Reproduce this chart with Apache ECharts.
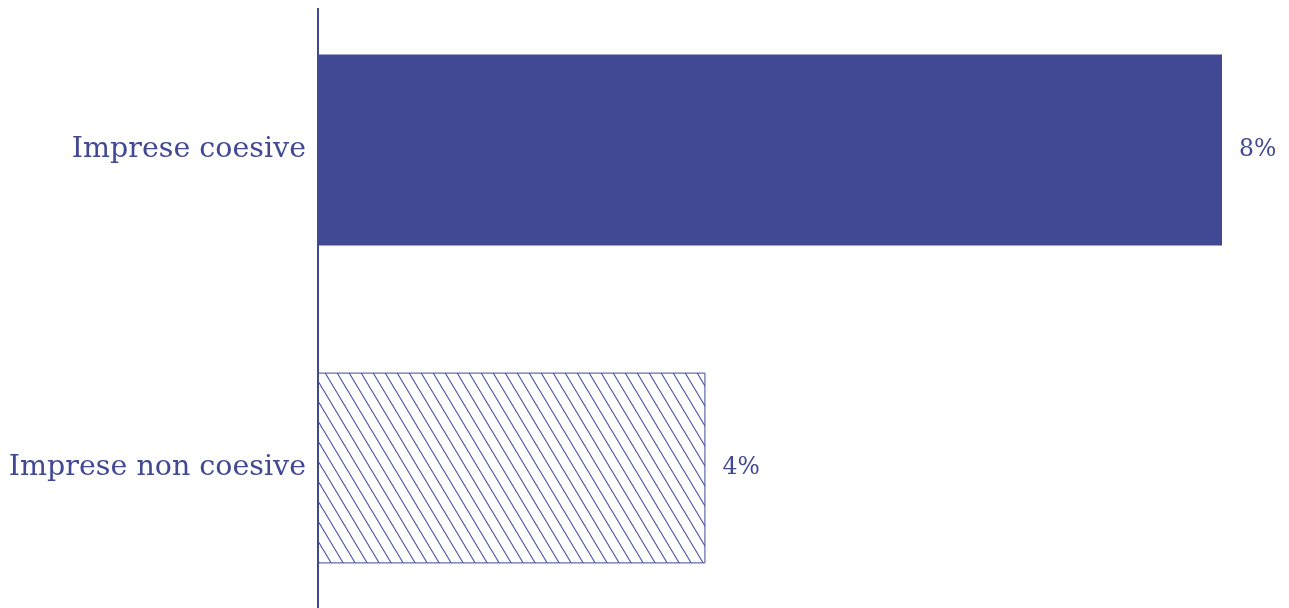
<!DOCTYPE html>
<html>
<head>
<meta charset="utf-8">
<style>
  html, body { margin: 0; padding: 0; background: #fff; overflow: hidden; }
  body { width: 1289px; height: 608px; }
  #chart { width: 1289px; height: 636px; margin-top: -9px; }
</style>
<script src="https://cdn.jsdelivr.net/npm/echarts@6/dist/echarts.min.js"></script>
</head>
<body>
<div id="chart"></div>
<script>
// Share of firms, by cohesion
const categories = ['Imprese coesive', 'Imprese non coesive'];
const values = [8.4, 3.6];

const INK = '#414994';
const FONT = 'DejaVu Serif';

// Diagonal hatch tile for the non-cohesive bar
function hatchTile() {
  const w = 12, h = 20;
  const c = document.createElement('canvas');
  c.width = w; c.height = h;
  const g = c.getContext('2d');
  g.strokeStyle = '#4850a6';
  g.lineWidth = 1.1;
  g.beginPath();
  g.moveTo(-w, -h); g.lineTo(2 * w, 2 * h);
  g.moveTo(0, -h); g.lineTo(2 * w, h);
  g.moveTo(-w, 0); g.lineTo(w, 2 * h);
  g.stroke();
  return c;
}

const chart = echarts.init(document.getElementById('chart'));
chart.setOption({
  animation: false,
  backgroundColor: '#ffffff',
  grid: { left: 318, right: 67, top: 0, bottom: 0, containLabel: false },
  xAxis: {
    type: 'value', min: 0, max: 8.4,
    show: false
  },
  yAxis: {
    type: 'category', data: categories, inverse: true,
    axisLine: { show: false },
    axisTick: { show: false },
    axisLabel: { color: INK, fontFamily: FONT, fontSize: 28.5, margin: 12 }
  },
  graphic: [{
    type: 'line', z: 10,
    shape: { x1: 318, y1: 17, x2: 318, y2: 636 },
    style: { stroke: INK, lineWidth: 2 }
  }],
  series: [{
    type: 'bar',
    barCategoryGap: '40%',
    data: values.map((v, i) => ({
      value: v,
      itemStyle: i === 0
        ? { color: INK }
        : { color: { image: hatchTile(), repeat: 'repeat' }, borderColor: INK, borderWidth: 1 }
    })),
    label: {
      show: true, position: 'right', distance: 17,
      color: INK, fontFamily: FONT, fontSize: 23.5,
      formatter: p => Math.round(p.value) + '%'
    }
  }]
});
</script>
</body>
</html>
